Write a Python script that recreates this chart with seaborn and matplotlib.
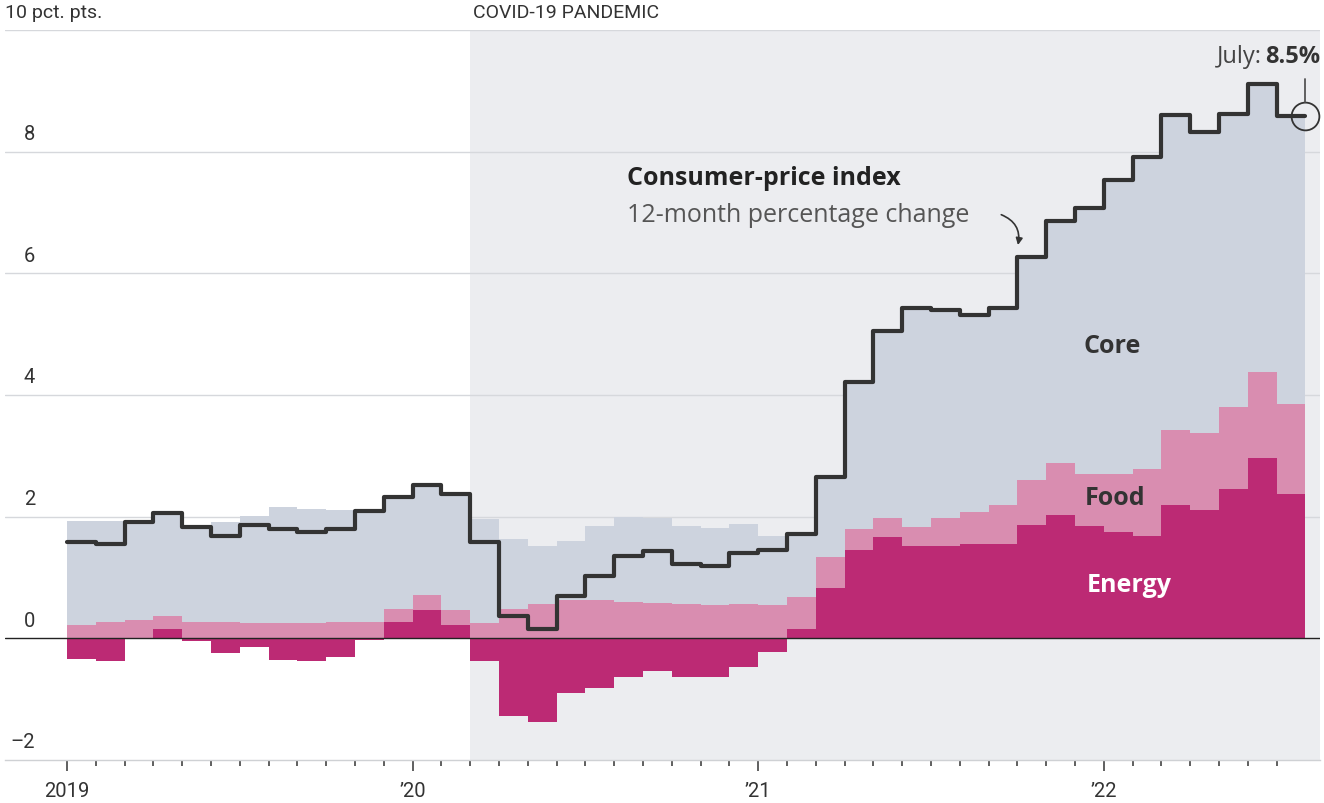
import numpy as np
import matplotlib
matplotlib.use("Agg")
import matplotlib.pyplot as plt
import seaborn as sns

# monthly values, Jan 2019 .. Jul 2022, percentage points
months = ["2019-01", "2019-02", "2019-03", "2019-04", "2019-05", "2019-06", "2019-07", "2019-08",
          "2019-09", "2019-10", "2019-11", "2019-12", "2020-01", "2020-02", "2020-03", "2020-04",
          "2020-05", "2020-06", "2020-07", "2020-08", "2020-09", "2020-10", "2020-11", "2020-12",
          "2021-01", "2021-02", "2021-03", "2021-04", "2021-05", "2021-06", "2021-07", "2021-08",
          "2021-09", "2021-10", "2021-11", "2021-12", "2022-01", "2022-02", "2022-03", "2022-04",
          "2022-05", "2022-06", "2022-07"]

cpi = [1.59, 1.55, 1.92, 2.06, 1.83, 1.68, 1.86, 1.80, 1.75, 1.80, 2.09, 2.32,
       2.52, 2.38, 1.59, 0.36, 0.15, 0.70, 1.03, 1.36, 1.43, 1.22, 1.19, 1.41,
       1.45, 1.72, 2.66, 4.22, 5.05, 5.43, 5.40, 5.31, 5.43, 6.27, 6.86, 7.08,
       7.54, 7.92, 8.60, 8.32, 8.62, 9.11, 8.58]

energy = [-0.34, -0.37, 0.0, 0.15, -0.04, -0.24, -0.15, -0.36, -0.38, -0.31, -0.02, 0.27,
          0.47, 0.22, -0.37, -1.27, -1.37, -0.90, -0.81, -0.63, -0.54, -0.63, -0.63, -0.47,
          -0.22, 0.15, 0.83, 1.45, 1.67, 1.51, 1.51, 1.55, 1.55, 1.86, 2.02, 1.84,
          1.74, 1.68, 2.19, 2.11, 2.45, 2.97, 2.38]

food = [0.22, 0.27, 0.30, 0.22, 0.27, 0.27, 0.25, 0.25, 0.25, 0.27, 0.27, 0.21,
        0.24, 0.25, 0.26, 0.48, 0.56, 0.63, 0.63, 0.59, 0.58, 0.56, 0.54, 0.56,
        0.54, 0.53, 0.50, 0.34, 0.30, 0.32, 0.46, 0.52, 0.64, 0.74, 0.86, 0.86,
        0.96, 1.11, 1.23, 1.27, 1.36, 1.41, 1.47]

core = [1.71, 1.66, 1.62, 1.69, 1.60, 1.65, 1.76, 1.91, 1.88, 1.84, 1.84, 1.84,
        1.81, 1.91, 1.70, 1.15, 0.96, 0.97, 1.21, 1.40, 1.39, 1.29, 1.28, 1.32,
        1.14, 1.05, 1.33, 2.44, 3.08, 3.60, 3.43, 3.24, 3.24, 3.68, 4.00, 4.38,
        4.84, 5.13, 5.19, 4.94, 4.81, 4.73, 4.73]

year_ticks = [0, 12, 24, 36]
year_labels = ["2019", "\u201920", "\u201921", "\u201922"]
y_ticks = [-2, 0, 2, 4, 6, 8]
pandemic_start = 14  # March 2020

c_core = "#cdd3de"
c_food = "#d98db0"
c_energy = "#bc2a74"
c_line = "#333333"
c_shade = "#ecedf0"

sns.set_theme(style="white")
plt.rcParams["font.family"] = ["Roboto", "DejaVu Sans"]
lab_font = ["Open Sans", "DejaVu Sans"]

# step edges: each month covers [i, i+1]
n = len(months)
x = np.arange(n + 1)
e = np.array(energy + energy[-1:])
f = np.array(food + food[-1:])
c = np.array(core + core[-1:])
base = np.clip(e, 0, None)
food_top = base + f
core_top = food_top + c

fig = plt.figure(figsize=(13.24, 8.04), dpi=100)
ax = fig.add_axes([5 / 1324, 43 / 804, 1315 / 1324, 730 / 804])
ax.set_xlim(-62 / 28.8, 1253 / 28.8)
ax.set_ylim(-2, 10)

ax.axvspan(pandemic_start, ax.get_xlim()[1], color=c_shade, zorder=0, lw=0)
for yv in [2, 4, 6, 8, 10]:
    ax.axhline(yv, color="#d6d8dc", lw=1.0, zorder=1)

ax.fill_between(x, np.minimum(e, 0), np.clip(e, 0, None), step="post", color=c_energy, lw=0, zorder=2)
ax.fill_between(x, base, food_top, step="post", color=c_food, lw=0, zorder=2)
ax.fill_between(x, food_top, core_top, step="post", color=c_core, lw=0, zorder=2)
ax.axhline(0, color="#222222", lw=1.0, zorder=3)

sns.lineplot(x=x, y=cpi + cpi[-1:], drawstyle="steps-post", color=c_line, lw=3.0,
             ax=ax, zorder=4, estimator=None, sort=False)

# axes cosmetics
for s in ["top", "right", "left"]:
    ax.spines[s].set_visible(False)
ax.spines["bottom"].set_color("#cfd1d4")
ax.spines["bottom"].set_linewidth(1.0)
ax.set_yticks([])
ax.set_xticks(year_ticks)
ax.set_xticklabels(year_labels, fontsize=14.5, color="#333333")
ax.set_xticks(np.arange(n), minor=True)
ax.tick_params(axis="x", which="major", length=8, width=1.2, color="#444444", pad=7, bottom=True)
ax.tick_params(axis="x", which="minor", length=4, width=1.2, color="#444444", bottom=True)

for yv in y_ticks:
    ax.text(-62 / 28.8 + 30 / 28.8, yv + 0.14, str(yv).replace("-", "\u2013"), ha="right", va="bottom",
            fontsize=14.5, color="#333333")
ax.text(-62 / 28.8, 10.14, "10 pct. pts.", ha="left", va="bottom", fontsize=14, color="#333333")
ax.text(pandemic_start + 0.1, 10.14, "COVID-19 PANDEMIC", ha="left", va="bottom", fontsize=14,
        color="#333333")

# labels
ax.text(19.45, 7.58, "Consumer-price index", ha="left", va="center", fontsize=18,
        fontweight="bold", color="#222222", family=lab_font)
ax.text(19.45, 6.97, "12-month percentage change", ha="left", va="center", fontsize=18,
        color="#555555", family=lab_font)
ax.annotate("", xy=(33.0, 6.42), xytext=(32.35, 6.98),
            arrowprops=dict(arrowstyle="-|>", color="#333333", lw=1.2,
                            connectionstyle="arc3,rad=-0.45", mutation_scale=10))
ax.text(36.3, 4.82, "Core", ha="center", va="center", fontsize=18, fontweight="bold",
        color="#333333", family=lab_font)
ax.text(36.4, 2.32, "Food", ha="center", va="center", fontsize=18, fontweight="bold",
        color="#333333", family=lab_font)
ax.text(36.9, 0.89, "Energy", ha="center", va="center", fontsize=18, fontweight="bold",
        color="white", family=lab_font)

# July marker
ax.plot([n], [cpi[-1]], marker="o", ms=20, mfc="none", mec="#333333", mew=1.3, zorder=5)
ax.plot([n, n], [cpi[-1] + 0.24, 9.2], color="#555555", lw=1.3, zorder=5)
t1 = ax.text(43.5, 9.57, "8.5%", ha="right", va="center", fontsize=17, fontweight="bold",
             color="#333333", family=lab_font)
fig.canvas.draw()
bb = t1.get_window_extent().transformed(ax.transData.inverted())
ax.text(bb.x0 - 0.08, 9.57, "July:", ha="right", va="center", fontsize=17, color="#444444",
        family=lab_font)

fig.savefig("out.png", dpi=100, facecolor="white")
